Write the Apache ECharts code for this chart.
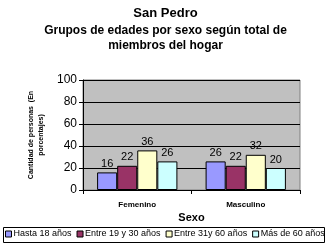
<!DOCTYPE html>
<html><head><meta charset="utf-8">
<script src="https://cdn.jsdelivr.net/npm/echarts@6/dist/echarts.min.js"></script>
<style>html,body{margin:0;padding:0;background:#fff}#c{width:331px;height:243px}</style>
</head><body><div id="c"></div>
<script>
const categories = ['Femenino', 'Masculino'];
const seriesNames = ['Hasta 18 años', 'Entre 19 y 30 años', 'Entre 31y 60 años', 'Más de 60 años'];
const hasta18 = [16, 26];
const entre19y30 = [22, 22];
const entre31y60 = [36, 32];
const mas60 = [26, 20];
const colors = ['#9999ff', '#993366', '#ffffcc', '#ccffff'];
const values = [hasta18, entre19y30, entre31y60, mas60];
const font = 'Liberation Sans, Arial, sans-serif';
const chart = echarts.init(document.getElementById('c'));
chart.setOption({
  animation: false,
  textStyle: {fontFamily: font},
  title: [
    {text: 'San Pedro', left: 'center', top: 2, textStyle: {fontSize: 13, fontWeight: 'bold', color: '#000', fontFamily: font}},
    {text: 'Grupos de edades por sexo según total de', left: 'center', top: 20,
     textStyle: {fontSize: 12, fontWeight: 'bold', color: '#000', fontFamily: font}},
    {text: 'miembros del hogar', left: 'center', top: 35,
     textStyle: {fontSize: 12, fontWeight: 'bold', color: '#000', fontFamily: font}}
  ],
  graphic: [{type: 'rect', shape: {x: 3.5, y: 227.5, width: 321, height: 15}, style: {fill: '#fff', stroke: '#000', lineWidth: 1}, z: -1}],
  legend: {
    data: seriesNames, left: 5, top: 229.5, width: 400,
    icon: 'rect', itemWidth: 6, itemHeight: 6, itemGap: 5, padding: 0,
    textStyle: {fontSize: 9, color: '#000', padding: [0, 0, 0, -3]},
    itemStyle: {borderColor: '#000', borderWidth: 1}
  },
  grid: {left: 83, right: 31, top: 80, bottom: 53, show: true, backgroundColor: '#c0c0c0', borderColor: '#808080', borderWidth: 1},
  xAxis: {
    type: 'category', data: categories,
    name: 'Sexo', nameLocation: 'middle', nameGap: 22,
    nameTextStyle: {fontSize: 11, fontWeight: 'bold', color: '#000'},
    axisLine: {lineStyle: {color: '#000'}},
    axisTick: {show: true, length: 4, lineStyle: {color: '#000'}},
    axisLabel: {fontSize: 8, fontWeight: 'bold', color: '#000', margin: 11}
  },
  yAxis: {
    type: 'value', min: 0, max: 100, interval: 20,
    name: 'Cantidad de personas  (En\nporcentajes)', nameLocation: 'middle', nameGap: 35, nameRotate: 90,
    nameTextStyle: {fontSize: 7, fontWeight: 'bold', color: '#000', lineHeight: 10},
    axisLine: {show: true, lineStyle: {color: '#000'}},
    axisTick: {show: true, length: 4, lineStyle: {color: '#000'}},
    axisLabel: {fontSize: 12, color: '#000', margin: 6},
    splitLine: {lineStyle: {color: '#000', width: 1}}
  },
  series: seriesNames.map((n, i) => ({
    name: n, type: 'bar', data: values[i], barGap: '0%', barCategoryGap: '26%',
    itemStyle: {color: colors[i], borderColor: '#000', borderWidth: 1},
    label: {show: true, position: 'top', fontSize: 11, color: '#000', distance: 3}
  }))
});
</script></body></html>
